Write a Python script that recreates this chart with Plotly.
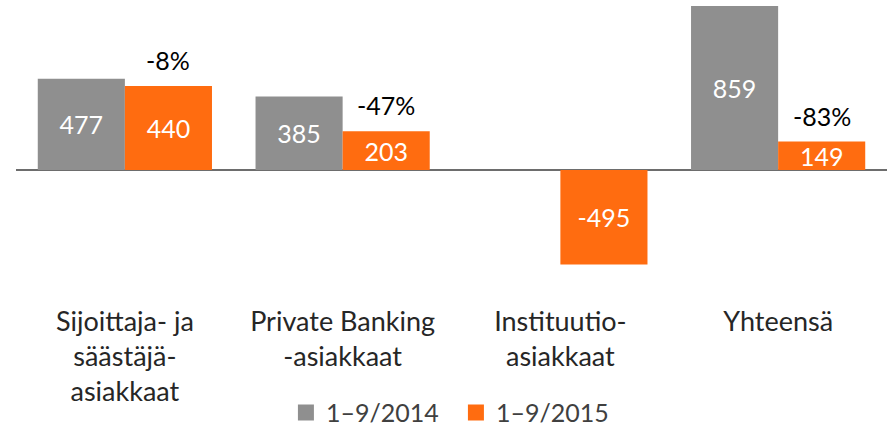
import plotly.graph_objects as go

# Net subscriptions by customer segment (EUR million)
categories = ["Sijoittaja- ja<br>säästäjä-<br>asiakkaat",
              "Private Banking<br>-asiakkaat",
              "Instituutio-<br>asiakkaat",
              "Yhteensä"]
series_names = ["1–9/2014", "1–9/2015"]
values_2014 = [477, 385, None, 859]
values_2015 = [440, 203, -495, 149]

GRAY = "#8f8f8f"
ORANGE = "#ff6c10"
FONT = "Lato, Open Sans, Noto Sans, sans-serif"
FS = 25

x_idx = list(range(len(categories)))


def labels(vals):
    return ["" if v is None else str(v) for v in vals]


fig = go.Figure()
for name, vals, color in [(series_names[0], values_2014, GRAY),
                          (series_names[1], values_2015, ORANGE)]:
    fig.add_trace(go.Bar(
        x=x_idx, y=vals, name=name, marker=dict(color=color, line=dict(width=0)),
        text=labels(vals), texttemplate="%{text}", textposition="inside",
        insidetextanchor="middle", textfont=dict(color="white", size=FS, family=FONT),
        showlegend=False, hoverinfo="skip",
    ))
    # square legend swatch
    fig.add_trace(go.Scatter(
        x=[None], y=[None], mode="markers", name=name,
        marker=dict(symbol="square", size=16, color=color),
    ))

# change percentages above the 2015 bars
for i, (a, b) in enumerate(zip(values_2014, values_2015)):
    if a is None:
        continue
    pct = round((b - a) / a * 100)
    fig.add_annotation(x=i + 0.2, y=b, xref="x", yref="y", text=f"{pct}%",
                       showarrow=False, yanchor="bottom", yshift=9,
                       font=dict(size=FS, color="black", family=FONT))

fig.update_layout(
    width=887, height=426,
    margin=dict(l=16, r=0, t=0, b=126, autoexpand=False),
    plot_bgcolor="white", paper_bgcolor="white",
    barmode="group", bargap=0.2, bargroupgap=0,
    uniformtext=dict(minsize=FS, mode="show"),
    font=dict(family=FONT, size=FS, color="#262626"),
    legend=dict(orientation="h", xref="container", yref="container",
                x=0.514, y=0.031, xanchor="center", yanchor="middle",
                entrywidth=125,
                font=dict(size=FS, color="#404040", family=FONT),
                itemclick=False, itemdoubleclick=False),
    xaxis=dict(tickmode="array", tickvals=x_idx, ticktext=categories,
               range=[-0.5, len(categories) - 0.5], showgrid=False,
               showline=False, ticks="", ticklabelstandoff=3,
               tickfont=dict(size=27, color="#262626")),
    yaxis=dict(range=[-681, 890], showgrid=False, showticklabels=False,
               zeroline=True, zerolinecolor="#6d6d6d", zerolinewidth=2, ticks=""),
)

fig.write_html("out.html")
